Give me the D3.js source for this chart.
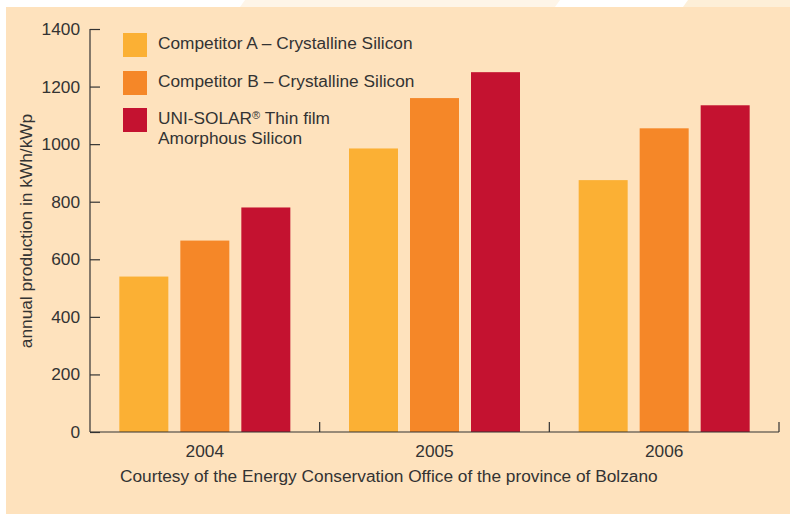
<html>
<script src="https://cdnjs.cloudflare.com/ajax/libs/d3/7.8.5/d3.min.js"></script>
<style>
body { margin: 0; background: #ffffff; }
text { font-family: "Liberation Sans", Arial, sans-serif; fill: #333333; }
</style>
<body>
<svg id="chart" width="790" height="514"></svg>
<script>
// data
var years = ["2004", "2005", "2006"];
var seriesNames = ["Competitor A \u2013 Crystalline Silicon", "Competitor B \u2013 Crystalline Silicon", "UNI-SOLAR"];
var competitorA = [540, 985, 875];
var competitorB = [665, 1160, 1055];
var uniSolar = [780, 1250, 1135];
var yTicks = [0, 200, 400, 600, 800, 1000, 1200, 1400];
var colors = ["#FBB034", "#F58728", "#C41230"];

var svg = d3.select("#chart");
var fs = "17.3px";

// page decoration at the very top
svg.append("polygon").attr("points", "245,0 560,0 555,7 240,7").attr("fill", "#FEF5E8");
svg.append("polygon").attr("points", "688,0 790,0 790,7 683,7").attr("fill", "#FDEFD8");
svg.append("rect").attr("x", 6).attr("y", 7).attr("width", 784).attr("height", 507).attr("fill", "#FEE2BD");

var plotLeft = 90, plotRight = 779, plotTop = 29, plotBottom = 432;

var x = d3.scaleBand().domain(years).range([plotLeft, plotRight]);
var y = d3.scaleLinear().domain([0, 1400]).range([plotBottom, plotTop]);

var series = [competitorA, competitorB, uniSolar];
var barW = 49, gap = 12;

series.forEach(function(vals, s) {
  svg.append("g").selectAll("rect")
    .data(vals)
    .enter()
    .append("rect")
    .attr("x", function(d, i) { return x(years[i]) + x.bandwidth() / 2 - (3 * barW + 2 * gap) / 2 + s * (barW + gap); })
    .attr("y", function(d) { return y(d); })
    .attr("width", barW)
    .attr("height", function(d) { return plotBottom - y(d); })
    .attr("fill", colors[s]);
});

// y axis
var yAxis = d3.axisRight(y).tickValues(yTicks).tickSize(10).tickFormat("");
var gy = svg.append("g").attr("transform", "translate(" + plotLeft + ",0)").call(yAxis);
gy.select(".domain").attr("d", "M0," + plotTop + "V" + plotBottom);
gy.selectAll("line, path").attr("stroke", "#333333").attr("stroke-width", 1.2);

svg.append("g").selectAll("text")
  .data(yTicks)
  .enter()
  .append("text")
  .attr("x", 80)
  .attr("y", function(d) { return y(d) + 6; })
  .attr("text-anchor", "end")
  .style("font-size", fs)
  .text(function(d) { return d; });

// x axis
var xEdges = [x("2005"), x("2006"), plotRight];
svg.append("line").attr("x1", plotLeft).attr("x2", plotRight).attr("y1", plotBottom).attr("y2", plotBottom)
  .attr("stroke", "#333333").attr("stroke-width", 1.2);
svg.append("g").selectAll("line")
  .data(xEdges)
  .enter()
  .append("line")
  .attr("x1", function(d) { return d; })
  .attr("x2", function(d) { return d; })
  .attr("y1", plotBottom - 10)
  .attr("y2", plotBottom)
  .attr("stroke", "#333333").attr("stroke-width", 1.2);

svg.append("g").selectAll("text")
  .data(years)
  .enter()
  .append("text")
  .attr("x", function(d) { return x(d) + x.bandwidth() / 2; })
  .attr("y", 457)
  .attr("text-anchor", "middle")
  .style("font-size", fs)
  .text(function(d) { return d; });

svg.append("text")
  .attr("x", 120)
  .attr("y", 482)
  .style("font-size", fs)
  .text("Courtesy of the Energy Conservation Office of the province of Bolzano");

svg.append("text")
  .attr("transform", "translate(32,231) rotate(-90)")
  .attr("text-anchor", "middle")
  .style("font-size", fs)
  .text("annual production in kWh/kWp");

// legend
var legendY = [33, 71, 108];
var lg = svg.append("g");
lg.selectAll("rect")
  .data(seriesNames)
  .enter()
  .append("rect")
  .attr("x", 123)
  .attr("y", function(d, i) { return legendY[i]; })
  .attr("width", 24)
  .attr("height", 24)
  .attr("fill", function(d, i) { return colors[i]; });

lg.selectAll("text.lbl")
  .data(seriesNames.slice(0, 2))
  .enter()
  .append("text")
  .attr("class", "lbl")
  .attr("x", 158)
  .attr("y", function(d, i) { return legendY[i] + 16; })
  .style("font-size", fs)
  .text(function(d) { return d; });

var t3 = lg.append("text").attr("x", 158).attr("y", legendY[2] + 16).style("font-size", fs);
t3.append("tspan").text(seriesNames[2]);
t3.append("tspan").attr("dy", -5).style("font-size", "11px").text("\u00AE");
t3.append("tspan").attr("dy", 5).text(" Thin film");
lg.append("text").attr("x", 158).attr("y", legendY[2] + 36).style("font-size", fs).text("Amorphous Silicon");
</script>
</body>
</html>
